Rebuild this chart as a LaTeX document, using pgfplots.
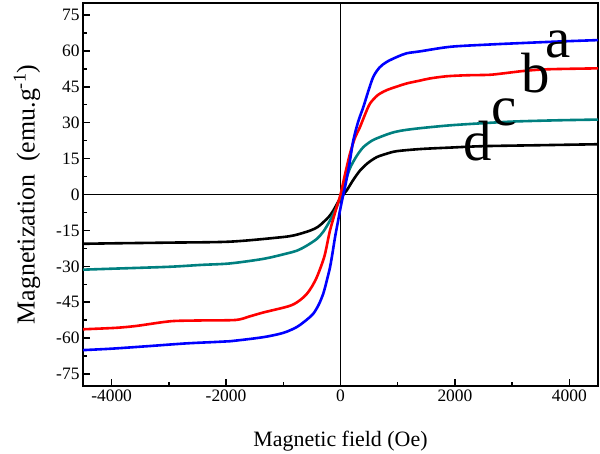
\documentclass[border=0pt]{standalone}
\usepackage{pgfplots}
\pgfplotsset{compat=1.18}
\usetikzlibrary{calc}
\usepackage{fontspec}
\setmainfont{Liberation Serif}
\definecolor{cblue}{RGB}{0,0,255}
\definecolor{cred}{RGB}{255,0,0}
\definecolor{cteal}{RGB}{0,128,128}
\begin{document}
\begin{tikzpicture}
\begin{axis}[
  scale only axis,
  width=515bp, height=383bp,
  xmin=-4500, xmax=4500, ymin=-80, ymax=80,
  xtick={-4000,-2000,0,2000,4000},
  minor xtick={-3000,-1000,1000,3000},
  ytick={-75,-60,-45,-30,-15,0,15,30,45,60,75},
  minor ytick={-67.5,-52.5,-37.5,-22.5,-7.5,7.5,22.5,37.5,52.5,67.5},
  tick pos=left,
  tick align=inside,
  major tick length=7bp, minor tick length=4bp,
  every tick/.style={black, line width=1.5bp},
  axis line style={line width=1.6bp},
  /pgf/number format/assume math mode=true,
  scaled x ticks=false,
  xticklabel style={font=\fontsize{17.5}{20}\selectfont, /pgf/number format/.cd, 1000 sep={}},
  yticklabel style={font=\fontsize{17.5}{20}\selectfont},
  xlabel={Magnetic field (Oe)},
  ylabel={Magnetization\ \ (emu.g\textsuperscript{-1})},
  xlabel style={font=\fontsize{22}{24}\selectfont, at={(axis description cs:0.5,-0.1567)}, anchor=base},
  ylabel style={font=\fontsize{26}{28}\selectfont, at={(axis description cs:-0.094,0.5)}, anchor=base},
  clip=false,
]
\draw[line width=0.9bp] (axis cs:-4500,0) -- (axis cs:4500,0);
\draw[line width=0.9bp] (axis cs:0,-80) -- (axis cs:0,80);
% d (black)
\addplot[black, line width=2.6bp, smooth] coordinates {
(-4500,-20.6) (-4000,-20.4) (-3000,-20.1) (-1934,-19.7) (-1059,-17.9) (-800,-17) (-534,-15.1) (-400,-13.6) (-301,-11.6) (-200,-9.2) (-126,-6.7) (-9,-1.8) (108,1.7) (220,6) (341,10) (480,13.2) (633,15.6) (800,17) (983,18.1) (1400,19) (1916,19.6) (2500,20.2) (3500,20.6) (4500,21)};
% c (teal)
\addplot[cteal, line width=2.6bp, smooth] coordinates {
(-4500,-31.4) (-4000,-31) (-3000,-30.2) (-2428,-29.4) (-1934,-28.8) (-1351,-26.9) (-1000,-25) (-767,-23.5) (-600,-21.5) (-417,-18.6) (-300,-15.5) (-184,-10.9) (-67,-5.3) (0,-1) (80,5) (166,11) (280,16) (400,19.8) (550,22.5) (691,24) (900,25.8) (1094,26.8) (1391,27.7) (1916,28.9) (2500,29.8) (3040,30.5) (3800,31) (4500,31.3)};
% b (red)
\addplot[cred, line width=2.6bp, smooth] coordinates {
(-4500,-56.3) (-3929,-55.7) (-3600,-55) (-3334,-54.1) (-3100,-53.3) (-2879,-52.8) (-2400,-52.6) (-1829,-52.4) (-1600,-51) (-1351,-49.3) (-884,-46.5) (-700,-44) (-592,-41.6) (-500,-38.5) (-417,-34.7) (-340,-30) (-271,-24.9) (-184,-15.1) (-67,-5.3) (0,0) (80,8.5) (166,17.1) (250,23.5) (341,28.2) (430,33.5) (516,38) (650,41.5) (808,43.6) (1000,45.2) (1158,46.4) (1391,47.6) (1566,48.5) (1858,49.4) (2200,49.8) (2600,50) (2844,50.6) (3200,51.6) (3608,52.3) (4500,52.7)};
% a (blue)
\addplot[cblue, line width=2.6bp, smooth] coordinates {
(-4500,-65) (-4000,-64.4) (-3334,-63.3) (-2700,-62.2) (-2179,-61.6) (-1934,-61.3) (-1351,-59.6) (-1000,-57.8) (-767,-55.4) (-600,-52.5) (-476,-49.8) (-380,-46) (-301,-41.4) (-240,-36) (-184,-30.5) (-140,-24.5) (-96,-17.9) (-50,-12) (-9,-6.7) (40,-1) (79,3.1) (150,12) (224,22.6) (310,30.5) (400,36.6) (490,43.5) (574,49.2) (680,53) (808,55.4) (1000,57.6) (1158,59) (1391,59.8) (1916,61.7) (2558,62.6) (3200,63.3) (3800,63.9) (4500,64.5)};
\node[font=\fontsize{57}{57}\selectfont, anchor=base, inner sep=0pt] at (axis cs:3798,57.4) {a};
\node[font=\fontsize{57}{57}\selectfont, anchor=base, inner sep=0pt] at (axis cs:3404,42.7) {b};
\node[font=\fontsize{57}{57}\selectfont, anchor=base, inner sep=0pt] at (axis cs:2861,28.9) {c};
\node[font=\fontsize{57}{57}\selectfont, anchor=base, inner sep=0pt] at (axis cs:2398,14.2) {d};
\end{axis}
\pgfresetboundingbox
\path ($(current axis.south west)+(-83bp,-67bp)$) rectangle ($(current axis.north east)+(2bp,3bp)$);
\end{tikzpicture}
\end{document}
